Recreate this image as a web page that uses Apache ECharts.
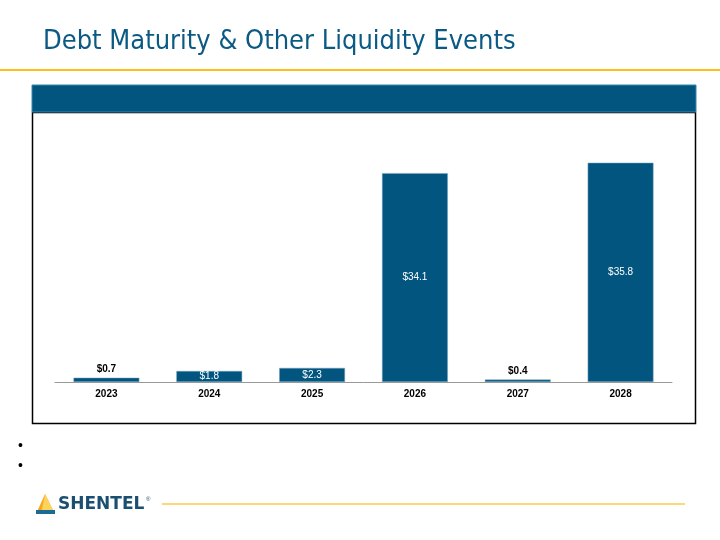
<!DOCTYPE html>
<html><head><meta charset="utf-8">
<script src="https://cdn.jsdelivr.net/npm/echarts@6/dist/echarts.min.js"></script>
<style>html,body{margin:0;padding:0;background:#fff}#c{width:720px;height:540px}</style>
</head><body><div id="c"></div>
<script>
const categories = ['2023','2024','2025','2026','2027','2028'];
const values = [0.7, 1.8, 2.3, 34.1, 0.4, 35.8];
const titleText = 'Debt Maturity & Other Liquidity Events';

const BLUE = '#02557F';
const chart = echarts.init(document.getElementById('c'), null, {renderer:'canvas'});
const data = values.map(v => ({
  value: v,
  label: v < 1
    ? {position:'top', color:'#000', fontWeight:'bold', distance:3}
    : {position:'inside', color:'#fff', fontWeight:'normal'}
}));
chart.setOption({
  animation:false,
  title:{text:titleText, left:38, top:23,
    textStyle:{fontFamily:'DejaVu Sans Condensed', fontSize:27, fontWeight:'normal', color:'#0B5A84'}},
  grid:{left:55, right:48, top:137, bottom:158},
  xAxis:{type:'category', data:categories,
    axisLine:{lineStyle:{color:'#999', width:1}}, axisTick:{show:false},
    axisLabel:{color:'#000', fontWeight:'bold', fontFamily:'Liberation Sans', fontSize:10, margin:7}},
  yAxis:{type:'value', min:0, max:40, show:false, splitLine:{show:false}},
  series:[{type:'bar', data:data, barWidth:'64%',
    itemStyle:{color:BLUE, borderColor:'#7FA6C2', borderWidth:0.5},
    label:{show:true, fontFamily:'Liberation Sans', fontSize:10, formatter:p=>'$'+p.value.toFixed(1)}}],
  graphic:[
    {type:'rect', shape:{x:0,y:69,width:720,height:2}, style:{fill:'#FDBE1A'}, silent:true},
    {type:'rect', shape:{x:32,y:85,width:664,height:27}, style:{fill:BLUE, stroke:'#3A86AE', lineWidth:1}, silent:true},
    {type:'rect', shape:{x:32.5,y:112.5,width:663,height:311}, style:{fill:'none', stroke:'#000', lineWidth:1.5}, silent:true, z:-1},
    {type:'text', left:18, top:439, style:{text:'•', fontSize:14, fill:'#000', fontFamily:'Liberation Sans'}},
    {type:'text', left:18, top:459, style:{text:'•', fontSize:14, fill:'#000', fontFamily:'Liberation Sans'}},
    {type:'polygon', shape:{points:[[45,494],[36,514],[55,514]]}, style:{fill:'#F5A623'}},
    {type:'polygon', shape:{points:[[45,494],[41,514],[55,514]]}, style:{fill:'#FDD35B'}},
    {type:'polygon', shape:{points:[[36,510],[55,510],[55,514],[36,514]]}, style:{fill:'#1B6B93'}},
    {type:'text', left:58, top:496, style:{text:'SHENTEL', fontSize:17, fontWeight:'bold', fill:'#1B4F72', fontFamily:'DejaVu Sans'}},
    {type:'text', left:146, top:496, style:{text:'®', fontSize:6, fill:'#1B4F72', fontFamily:'Liberation Sans'}},
    {type:'rect', shape:{x:162,y:503,width:523,height:2}, style:{fill:'#FDD77A'}, silent:true}
  ]
});
</script></body></html>
